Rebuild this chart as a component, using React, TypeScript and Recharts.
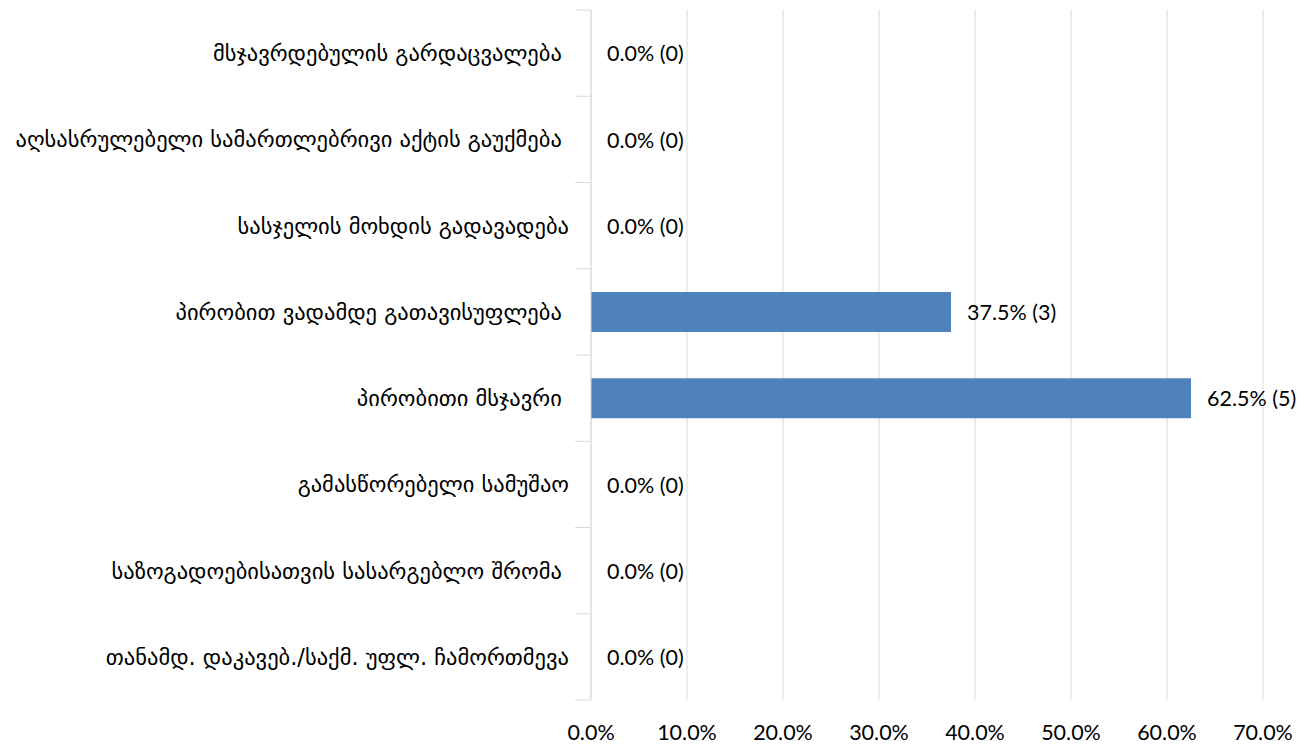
import { BarChart, Bar, XAxis, YAxis, CartesianGrid, LabelList } from "recharts";

// კატეგორიები (ზემოდან ქვემოთ)
const categories = [
  "მსჯავრდებულის გარდაცვალება ",
  "აღსასრულებელი სამართლებრივი აქტის გაუქმება ",
  "სასჯელის მოხდის გადავადება",
  "პირობით ვადამდე გათავისუფლება ",
  "პირობითი მსჯავრი ",
  "გამასწორებელი სამუშაო",
  "საზოგადოებისათვის სასარგებლო შრომა ",
  "თანამდ. დაკავებ./საქმ. უფლ. ჩამორთმევა",
];
const percents = [0, 0, 0, 37.5, 62.5, 0, 0, 0];
const counts = [0, 0, 0, 3, 5, 0, 0, 0];
const xTicks = [0, 10, 20, 30, 40, 50, 60, 70];

const data = categories.map((name, i) => ({
  name,
  pct: percents[i],
  label: `${percents[i].toFixed(1)}% (${counts[i]})`,
}));

const W = 1311;
const H = 744;
const TOP = 10;
const BOTTOM_AREA = 44;
const PLOT_H = H - TOP - BOTTOM_AREA;
const BAND = PLOT_H / categories.length;

const gridColor = "#d9d9d9";
const barColor = "#4f81bd";
const numFont = "Lato, 'DejaVu Sans', sans-serif";
const geoFont = "'DejaVu Sans', sans-serif";

const CategoryTick = (props: any) => {
  const { x, y, payload, index } = props;
  const last = index === categories.length - 1;
  return (
    <g>
      <line x1={x - 8} x2={x + 8} y1={y - BAND / 2} y2={y - BAND / 2} stroke={gridColor} />
      {last && <line x1={x - 8} x2={x + 8} y1={y + BAND / 2} y2={y + BAND / 2} stroke={gridColor} />}
      <text
        x={x - 14}
        y={y}
        textAnchor="end"
        dominantBaseline="central"
        fontFamily={geoFont}
        fontSize={22.5}
        fill="#000"
        style={{ whiteSpace: "pre" }}
      >
        {payload.value}
      </text>
    </g>
  );
};

const ValueLabel = (props: any) => {
  const { x, y, width, height, value } = props;
  return (
    <text
      x={x + width + 16}
      y={y + height / 2}
      dominantBaseline="central"
      fontFamily={numFont}
      fontSize={21.5}
      fill="#000"
    >
      {value}
    </text>
  );
};

export default function App() {
  return (
    <div style={{ position: "fixed", left: 0, top: 0, background: "#fff" }}>
      <BarChart
        width={W}
        height={H}
        data={data}
        layout="vertical"
        margin={{ top: TOP, right: 48, left: 0, bottom: 0 }}
        barCategoryGap="27%"
      >
        <CartesianGrid horizontal={false} stroke={gridColor} />
        <XAxis
          type="number"
          domain={[0, 70]}
          ticks={xTicks}
          axisLine={false}
          tickLine={false}
          height={BOTTOM_AREA}
          tickFormatter={(v: number) => `${v.toFixed(1)}%`}
          tick={{ fill: "#000", fontSize: 21.5, fontFamily: numFont, dy: 17 }}
          interval={0}
        />
        <YAxis
          type="category"
          dataKey="name"
          width={591}
          axisLine={{ stroke: gridColor }}
          tickLine={false}
          tick={<CategoryTick />}
          interval={0}
        />
        <Bar dataKey="pct" fill={barColor} minPointSize={0.01} isAnimationActive={false}>
          <LabelList dataKey="label" content={<ValueLabel />} />
        </Bar>
      </BarChart>
    </div>
  );
}
